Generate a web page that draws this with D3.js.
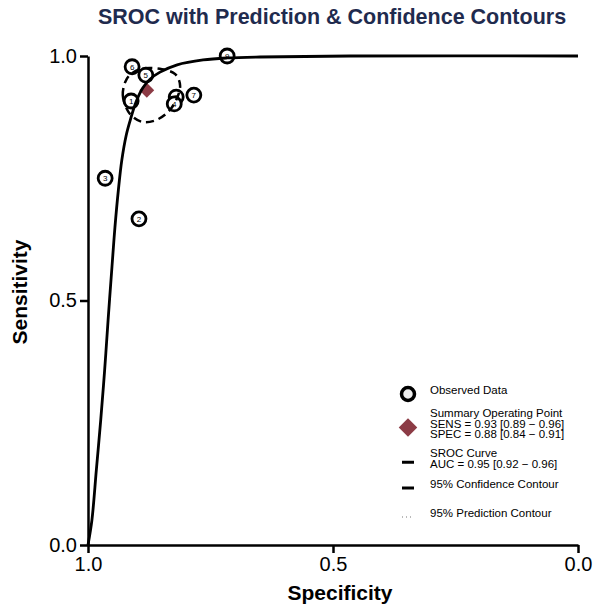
<!DOCTYPE html>
<html>
<head>
<meta charset="utf-8">
<script src="https://cdn.jsdelivr.net/npm/d3@7"></script>
<style>
  body { margin: 0; background: #fff; }
  svg { font-family: "Liberation Sans", Arial, sans-serif; }
</style>
</head>
<body>
<div id="chart"></div>
<script>
// observed studies (specificity, sensitivity)
const studyIds = [1, 2, 3, 4, 5, 6, 7, 8, 9];
const studySpec = [0.912, 0.896, 0.965, 0.824, 0.882, 0.910, 0.784, 0.820, 0.716];
const studySens = [0.908, 0.667, 0.750, 0.902, 0.961, 0.978, 0.920, 0.916, 1.000];
// drawing order (study 4 sits on top of study 8 in the picture)
const drawOrder = [8, 1, 2, 3, 5, 6, 7, 4, 9];

// summary operating point
const summarySpec = 0.88;
const summarySens = 0.93;

// SROC curve
const curveSpec = [1.000, 0.992, 0.983, 0.974, 0.966, 0.959, 0.951, 0.945, 0.938, 0.931, 0.922, 0.914, 0.902, 0.888, 0.873, 0.853, 0.818, 0.765, 0.716, 0.649, 0.465, 0.000];
const curveSens = [0.000, 0.051, 0.153, 0.256, 0.358, 0.460, 0.570, 0.650, 0.726, 0.787, 0.838, 0.868, 0.906, 0.935, 0.953, 0.967, 0.982, 0.992, 0.996, 0.998, 1.000, 1.000];

// 95% confidence contour
const confSpec = [0.924, 0.929, 0.922, 0.910, 0.888, 0.861, 0.837, 0.820, 0.812, 0.822, 0.849, 0.884, 0.910];
const confSens = [0.947, 0.920, 0.894, 0.877, 0.865, 0.869, 0.885, 0.910, 0.939, 0.963, 0.973, 0.975, 0.965];

const axisTicks = [1, 0.5, 0];
const legendLines = [
  ["Observed Data"],
  ["Summary Operating Point", "SENS = 0.93 [0.89 \u2212 0.96]", "SPEC = 0.88 [0.84 \u2212 0.91]"],
  ["SROC Curve", "AUC = 0.95 [0.92 \u2212 0.96]"],
  ["95% Confidence Contour"],
  ["95% Prediction Contour"]
];

const W = 600, H = 609;
const svg = d3.select("#chart").append("svg")
    .attr("width", W)
    .attr("height", H);

const x = d3.scaleLinear().domain([1, 0]).range([88, 578]);
const y = d3.scaleLinear().domain([0, 1]).range([545, 56]);

// title
svg.append("text")
    .attr("x", 332)
    .attr("y", 24)
    .attr("text-anchor", "middle")
    .style("font-size", "21.5px")
    .style("font-weight", "bold")
    .style("fill", "#1f2b4e")
    .text("SROC with Prediction & Confidence Contours");

// axes
const xAxis = svg.append("g")
    .attr("transform", `translate(0,${y(0)})`)
    .call(d3.axisBottom(x).tickValues(axisTicks).tickFormat(d3.format(".1f")).tickSize(8).tickSizeOuter(0).tickPadding(4));
const yAxis = svg.append("g")
    .attr("transform", `translate(${x(1)},0)`)
    .call(d3.axisLeft(y).tickValues(axisTicks).tickFormat(d3.format(".1f")).tickSize(8).tickSizeOuter(0).tickPadding(3));

[xAxis, yAxis].forEach(g => {
  g.select(".domain").attr("stroke", "#000").attr("stroke-width", 2.5);
  g.selectAll(".tick line").attr("stroke", "#000").attr("stroke-width", 2.5);
  g.selectAll(".tick text")
      .style("font-size", "20px")
      .style("font-family", "Liberation Sans, Arial, sans-serif")
      .attr("fill", "#000");
});

// axis labels
svg.append("text")
    .attr("x", 340)
    .attr("y", 600)
    .attr("text-anchor", "middle")
    .style("font-size", "21px")
    .style("font-weight", "bold")
    .text("Specificity");

svg.append("text")
    .attr("transform", "rotate(-90)")
    .attr("x", -292)
    .attr("y", 27)
    .attr("text-anchor", "middle")
    .style("font-size", "21px")
    .style("font-weight", "bold")
    .text("Sensitivity");

// observed study circles, one group per study so later ones cover earlier ones
const studies = drawOrder.map(id => {
  const i = studyIds.indexOf(id);
  return { id, spec: studySpec[i], sens: studySens[i] };
});

const pts = svg.append("g").selectAll("g").data(studies).enter()
    .append("g")
    .attr("transform", d => `translate(${x(d.spec)},${y(d.sens)})`);
pts.append("circle")
    .attr("r", 7)
    .attr("fill", "#fff")
    .attr("stroke", "#000")
    .attr("stroke-width", 2.8);
pts.append("text")
    .attr("dy", "0.35em")
    .attr("text-anchor", "middle")
    .style("font-size", "8px")
    .text(d => d.id);

// summary point
svg.append("path")
    .attr("d", d3.symbol(d3.symbolSquare, 110)())
    .attr("transform", `translate(${x(summarySpec)},${y(summarySens)}) rotate(45)`)
    .attr("fill", "#8c3b45");

// confidence contour
const confPts = confSpec.map((s, i) => [x(s), y(confSens[i])]);
svg.append("path")
    .attr("d", d3.line().curve(d3.curveCardinalClosed)(confPts))
    .attr("fill", "none")
    .attr("stroke", "#000")
    .attr("stroke-width", 2.5)
    .attr("stroke-dasharray", "8,5");

// SROC curve
const curvePts = curveSpec.map((s, i) => [x(s), y(curveSens[i])]);
svg.append("path")
    .attr("d", d3.line().curve(d3.curveCatmullRom.alpha(0.5))(curvePts))
    .attr("fill", "none")
    .attr("stroke", "#000")
    .attr("stroke-width", 2.8);

// legend
const lgX = 408, lgTextX = 430;
const lgTop = [394, 417, 457, 488, 517];
const lineH = 10.5;
const lg = svg.append("g").style("font-size", "11.5px");

legendLines.forEach((lines, i) => {
  lg.append("text")
      .attr("x", lgTextX)
      .attr("y", lgTop[i])
      .attr("dy", "0.35em")
      .selectAll("tspan").data(lines).enter()
      .append("tspan")
      .attr("x", lgTextX)
      .attr("dy", (d, j) => j === 0 ? 0 : lineH)
      .text(d => d);
});

lg.append("circle")
    .attr("cx", lgX).attr("cy", lgTop[0])
    .attr("r", 6.5)
    .attr("fill", "#eee")
    .attr("stroke", "#000")
    .attr("stroke-width", 3.5);

lg.append("path")
    .attr("d", d3.symbol(d3.symbolSquare, 170)())
    .attr("transform", `translate(${lgX},${lgTop[1] + lineH}) rotate(45)`)
    .attr("fill", "#8c3b45");

lg.append("line")
    .attr("x1", lgX - 6).attr("x2", lgX + 6)
    .attr("y1", lgTop[2] + lineH / 2).attr("y2", lgTop[2] + lineH / 2)
    .attr("stroke", "#000").attr("stroke-width", 3);

lg.append("line")
    .attr("x1", lgX - 6).attr("x2", lgX + 6)
    .attr("y1", lgTop[3]).attr("y2", lgTop[3])
    .attr("stroke", "#000").attr("stroke-width", 3);

lg.append("line")
    .attr("x1", lgX - 6).attr("x2", lgX + 6)
    .attr("y1", lgTop[4]).attr("y2", lgTop[4])
    .attr("stroke", "#777").attr("stroke-width", 1.2)
    .attr("stroke-dasharray", "1,3");
</script>
</body>
</html>
